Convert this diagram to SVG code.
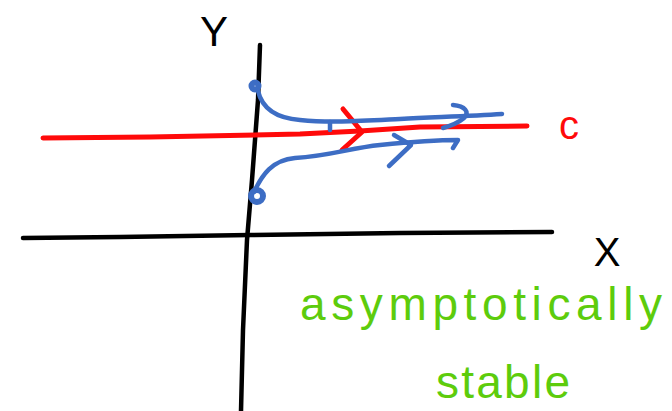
<svg xmlns="http://www.w3.org/2000/svg" width="672" height="411" viewBox="0 0 672 411">
<style>
.ink{fill:none;stroke-linecap:round;stroke-linejoin:round}
.k{stroke:#000;stroke-width:4.5}
.r{stroke:#ff0a0a;stroke-width:5}
.b{stroke:#3d6dc4;stroke-width:4.5}
.dot{stroke:#3d6dc4;stroke-width:6;fill:none}
.lbl{font-family:"Liberation Sans","DejaVu Sans",sans-serif}
.g{fill:#5dcc0c}
</style>
<rect width="672" height="411" fill="#fff"/>
<g id="axes">
<path class="ink k" d="M260,45 L258,100 L252,180 L247,240 L243,330 L241,411"/>
<path class="ink k" d="M23,238 L120,237 L250,235 L400,233 L552,232"/>
</g>
<g id="labels">
<text class="lbl" x="214" y="46" font-size="42" text-anchor="middle" fill="#000">Y</text>
<text class="lbl" x="607" y="266" font-size="40" text-anchor="middle" fill="#000">X</text>
<text class="lbl" x="569" y="139" font-size="40" text-anchor="middle" fill="#ff0a0a">c</text>
<text class="lbl g" x="300" y="320" font-size="46" textLength="362" lengthAdjust="spacing">asymptotically</text>
<text class="lbl g" x="436" y="398" font-size="46" textLength="134" lengthAdjust="spacing">stable</text>
</g>
<g id="curve-c">
<path class="ink r" d="M43,138 L150,137 L300,134 L360,131 L420,127 L527,126"/>
<path class="ink r" d="M343,109 L362,132 L342,150"/>
</g>
<g id="connectors">
<circle cx="255" cy="86" r="3.5" class="dot"/>
<path class="ink b" d="M258,91 C262,108 275,118 300,120 C330,123 360,121 400,119 C440,117 470,116 502,114"/>
<path class="ink b" d="M330,122 L330,130"/>
<path class="ink b" d="M453,105 C465,106 470,112 464,118 C458,123 450,126 443,128"/>
<circle cx="257" cy="196" r="6" class="dot"/>
<path class="ink b" d="M254,192 C262,175 272,160 295,158 C330,156 350,148 380,145 C410,142 435,140 458,140 L453,148"/>
<path class="ink b" d="M394,135 L411,145 L389,166"/>
</g>
</svg>
